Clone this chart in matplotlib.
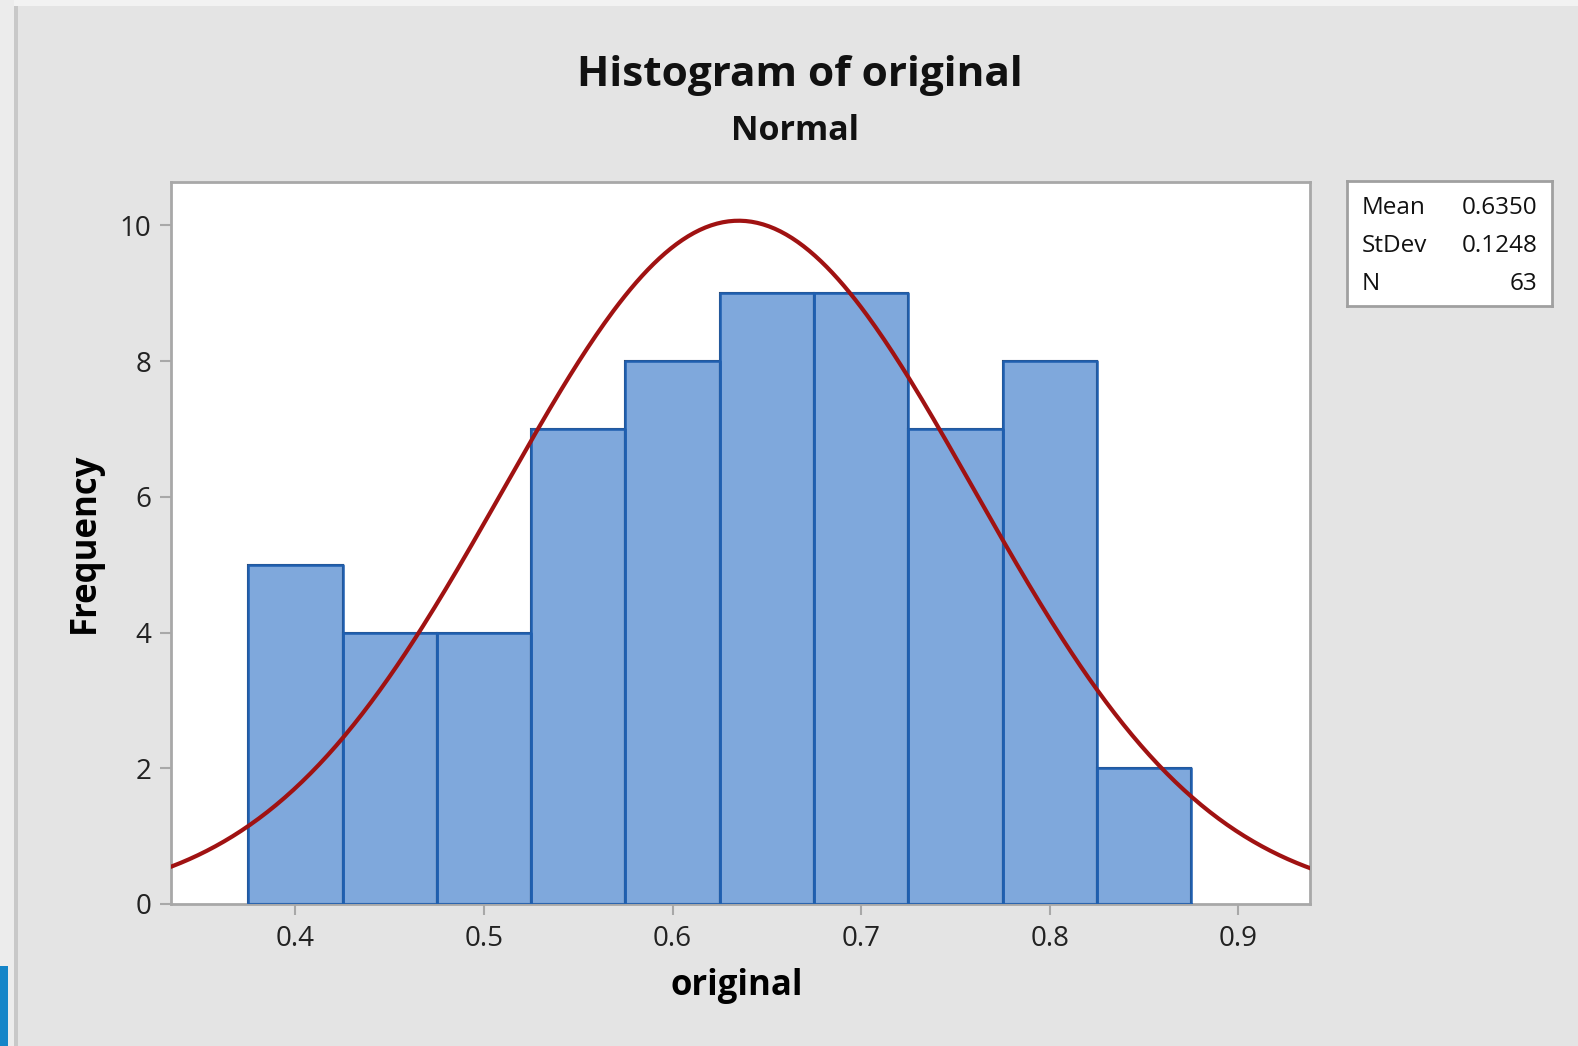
import numpy as np
import matplotlib.pyplot as plt
from matplotlib.patches import Rectangle

plt.rcParams['font.family'] = ['Open Sans', 'DejaVu Sans']

# histogram data
bin_edges = [0.375, 0.425, 0.475, 0.525, 0.575, 0.625, 0.675, 0.725, 0.775, 0.825, 0.875]
counts = [5, 4, 4, 7, 8, 9, 9, 7, 8, 2]

mean = 0.6350
stdev = 0.1248
n = 63

xticks = [0.4, 0.5, 0.6, 0.7, 0.8, 0.9]
xtick_labels = ['0.4', '0.5', '0.6', '0.7', '0.8', '0.9']
yticks = [0, 2, 4, 6, 8, 10]

W, H = 1578, 1046
fig = plt.figure(figsize=(W / 100, H / 100), dpi=100)
fig.patch.set_facecolor('#e4e4e4')

# screenshot frame
fig.patches.append(Rectangle((0, 1 - 6/H), 1, 6/H, transform=fig.transFigure,
                             facecolor='#f2f2f2', edgecolor='none'))
fig.patches.append(Rectangle((0, 0), 14/W, 1, transform=fig.transFigure,
                             facecolor='#ececec', edgecolor='none'))
fig.patches.append(Rectangle((14/W, 0), 4/W, 1 - 6/H, transform=fig.transFigure,
                             facecolor='#c8c8c8', edgecolor='none'))
fig.patches.append(Rectangle((0, 0), 8/W, 80/H, transform=fig.transFigure,
                             facecolor='#1585c8', edgecolor='none'))

ax = fig.add_axes([171/W, 1 - 904/H, 1139/W, 722/H])
ax.set_facecolor('white')

widths = np.diff(bin_edges)
ax.bar(bin_edges[:-1], counts, width=widths, align='edge',
       color='#7fa8dc', edgecolor='#33455f', linewidth=1.5, zorder=2)
# blue outline around the histogram
for left, w, c in zip(bin_edges[:-1], widths, counts):
    ax.plot([left, left, left + w, left + w], [0, c, c, 0], color='#1f5fb0',
            lw=1.8, zorder=3)
ax.plot([bin_edges[0], bin_edges[-1]], [0, 0], color='#1f5fb0', lw=2, zorder=3)

# fitted normal curve
xs = np.linspace(0.33, 0.94, 400)
binw = bin_edges[1] - bin_edges[0]
ys = n * binw / (stdev * np.sqrt(2 * np.pi)) * np.exp(-0.5 * ((xs - mean) / stdev) ** 2)
ax.plot(xs, ys, color='#a01212', lw=3, zorder=5)

ax.set_xlim(0.334, 0.938)
ax.set_ylim(0, 10.64)
ax.set_xticks(xticks)
ax.set_xticklabels(xtick_labels)
ax.set_yticks(yticks)

for s in ax.spines.values():
    s.set_color('#a8a8a8')
    s.set_linewidth(2)
ax.tick_params(axis='both', direction='out', length=8, width=1.5, color='#a8a8a8',
               labelsize=20, labelcolor='#222222')
ax.tick_params(axis='x', pad=7)
ax.tick_params(axis='y', pad=6)

ax.set_xlabel('original', fontsize=25, fontweight='bold', va='center')
ax.set_ylabel('Frequency', fontsize=25, fontweight='bold', va='center')
ax.xaxis.set_label_coords(0.497, -0.113)
ax.yaxis.set_label_coords(-0.076, 0.5)

fig.text(800/W, 1 - 76/H, 'Histogram of original', ha='center', va='center',
         fontsize=30.5, fontweight='bold', color='#111111')
fig.text(795/W, 1 - 131/H, 'Normal', ha='center', va='center',
         fontsize=24.5, fontweight='bold', color='#111111')

# stats box
box = fig.add_axes([1347/W, 1 - 306/H, 205/W, 125/H])
box.set_facecolor('white')
box.set_xticks([])
box.set_yticks([])
for s in box.spines.values():
    s.set_color('#a0a0a0')
    s.set_linewidth(2)
labels = ['Mean', 'StDev', 'N']
values = ['%.4f' % mean, '%.4f' % stdev, '%d' % n]
for i, (lab, val) in enumerate(zip(labels, values)):
    yy = 0.78 - i * 0.30
    box.text(0.07, yy, lab, ha='left', va='center', fontsize=17.5, color='#111111',
             transform=box.transAxes)
    box.text(0.93, yy, val, ha='right', va='center', fontsize=17.5, color='#111111',
             transform=box.transAxes)

plt.savefig('out.png', dpi=100, facecolor=fig.get_facecolor())
